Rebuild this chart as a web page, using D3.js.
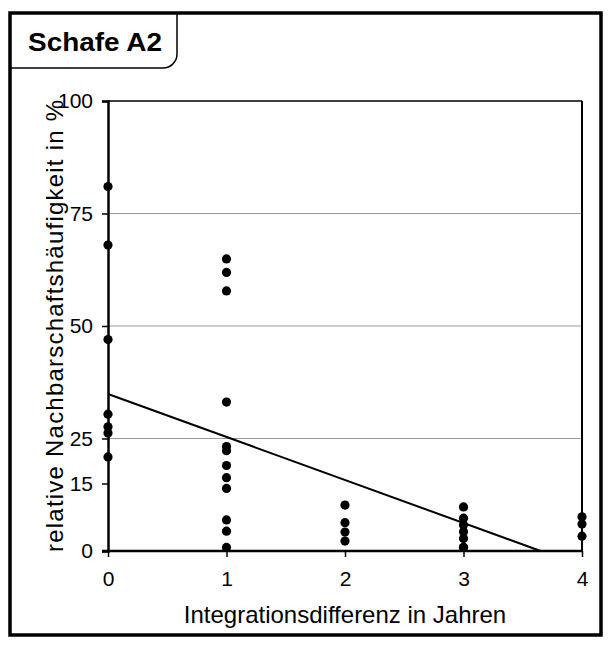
<!DOCTYPE html>
<html>
<head>
<meta charset="utf-8">
<script src="https://cdn.jsdelivr.net/npm/d3@7"></script>
<style>
  html, body { margin: 0; padding: 0; background: #fff; }
  svg { display: block; font-family: "Liberation Sans", Arial, sans-serif; }
</style>
</head>
<body>
<svg id="chart" width="611" height="646"></svg>
<script>
// Integration difference (years) and relative neighbourhood frequency (%)
const xValues = [
  0, 0, 0, 0, 0, 0, 0,
  1, 1, 1, 1, 1, 1, 1, 1, 1, 1, 1, 1,
  2, 2, 2, 2,
  3, 3, 3, 3, 3, 3, 3,
  4, 4, 4
];
const yValues = [
  81.0, 68.0, 47.0, 30.4, 27.6, 26.2, 20.9,
  64.9, 61.9, 57.8, 33.1, 23.2, 22.3, 19.0, 16.3, 13.9, 6.9, 4.4, 0.8,
  10.2, 6.3, 4.2, 2.2,
  9.8, 7.3, 5.8, 4.3, 2.8, 0.8, 0.8,
  7.6, 6.0, 3.3
];
const xTicks = [0, 1, 2, 3, 4];
const yTicks = [0, 15, 25, 50, 75, 100];
const gridValues = [25, 50, 75];
// Linear trend: y = intercept + slope * x
const trendIntercept = 34.9;
const trendSlope = -9.56;

const title = "Schafe A2";
const xLabel = "Integrationsdifferenz in Jahren";
const yLabel = "relative Nachbarschaftshäufigkeit in %";

const svg = d3.select("#chart");

// outer frame
svg.append("rect")
  .attr("x", 10).attr("y", 13)
  .attr("width", 591).attr("height", 622)
  .attr("fill", "#fff").attr("stroke", "#000").attr("stroke-width", 3.5);

// title tab with rounded lower-right corner
const tabR = 14, tabRight = 177, tabBottom = 68;
svg.append("path")
  .attr("d", `M10,${tabBottom} H${tabRight - tabR} A${tabR},${tabR} 0 0 0 ${tabRight},${tabBottom - tabR} V13`)
  .attr("fill", "none").attr("stroke", "#000").attr("stroke-width", 1.5);
svg.append("text")
  .attr("x", 28).attr("y", 51)
  .attr("font-size", 26).attr("font-weight", "bold")
  .attr("textLength", 134).attr("lengthAdjust", "spacingAndGlyphs")
  .text(title);

const x = d3.scaleLinear().domain([0, 4]).range([108, 582]);
const y = d3.scaleLinear().domain([0, 100]).range([551, 101]);

// horizontal grid lines
svg.append("g").selectAll("line").data(gridValues).join("line")
  .attr("x1", x(0)).attr("x2", x(4))
  .attr("y1", d => y(d)).attr("y2", d => y(d))
  .attr("stroke", "#999").attr("stroke-width", 1);

// top and right frame of the plot area
svg.append("line")
  .attr("x1", x(0)).attr("x2", x(4)).attr("y1", y(100)).attr("y2", y(100))
  .attr("stroke", "#000").attr("stroke-width", 1.5);
svg.append("line")
  .attr("x1", x(4)).attr("x2", x(4)).attr("y1", y(100)).attr("y2", y(0))
  .attr("stroke", "#000").attr("stroke-width", 2);

// axes
const yAxis = d3.axisLeft(y).tickValues(yTicks).tickSize(6).tickPadding(9)
  .tickFormat(d3.format("d"));
const gy = svg.append("g").attr("transform", `translate(${x(0)},0)`).call(yAxis);
const xAxis = d3.axisBottom(x).tickValues(xTicks).tickSize(6).tickPadding(14)
  .tickFormat(d3.format("d"));
const gx = svg.append("g").attr("transform", `translate(0,${y(0)})`).call(xAxis);

[gx, gy].forEach(g => {
  g.attr("font-size", 21).attr("font-family", "Liberation Sans, Arial, sans-serif");
  g.select(".domain").attr("stroke", "#000").attr("stroke-width", 2.5);
  g.selectAll(".tick line").attr("stroke", "#000").attr("stroke-width", 1.5);
  g.selectAll(".tick text").attr("fill", "#000");
});
gx.select(".domain").attr("d", `M${x(0) - 6},0H${x(4)}`);

// trend line, clipped at y = 0
const xEnd = Math.min(4, -trendIntercept / trendSlope);
svg.append("line")
  .attr("x1", x(0)).attr("y1", y(trendIntercept))
  .attr("x2", x(xEnd)).attr("y2", y(trendIntercept + trendSlope * xEnd))
  .attr("stroke", "#000").attr("stroke-width", 2);

// data points
const points = xValues.map((v, i) => ({ x: v, y: yValues[i] }));
svg.append("g").selectAll("circle").data(points).join("circle")
  .attr("cx", d => x(d.x)).attr("cy", d => y(d.y))
  .attr("r", 4.6).attr("fill", "#000");

// axis titles
svg.append("text")
  .attr("x", 345).attr("y", 623)
  .attr("text-anchor", "middle").attr("font-size", 24)
  .text(xLabel);
svg.append("text")
  .attr("transform", `translate(63,${y(50)}) rotate(-90)`)
  .attr("text-anchor", "middle").attr("font-size", 24)
  .attr("textLength", 452).attr("lengthAdjust", "spacing")
  .text(yLabel);
</script>
</body>
</html>
